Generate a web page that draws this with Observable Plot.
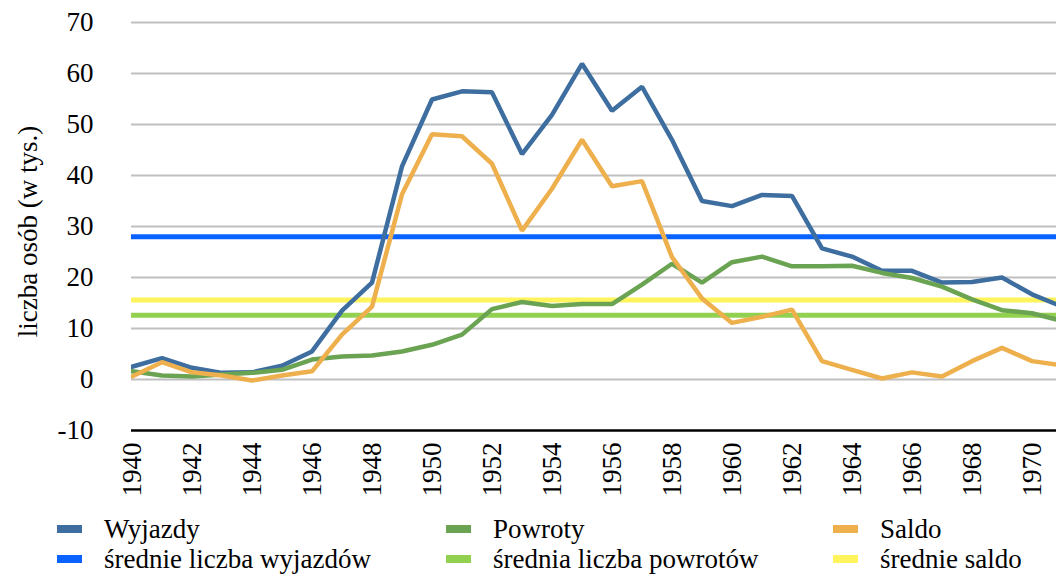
<!DOCTYPE html>
<html><head><meta charset="utf-8">
<script src="https://cdn.jsdelivr.net/npm/d3@7"></script>
<script src="https://cdn.jsdelivr.net/npm/@observablehq/plot@0.6"></script>
<style>
body{margin:0;background:#fff;font-family:"Times New Roman",serif;}
</style></head><body>
<div id="wrap" style="position:relative;width:1056px;height:576px;overflow:hidden;background:#fff;font-family:'Times New Roman',serif;"></div>
<script>
const years = [1940,1941,1942,1943,1944,1945,1946,1947,1948,1949,1950,1951,1952,1953,1954,1955,1956,1957,1958,1959,1960,1961,1962,1963,1964,1965,1966,1967,1968,1969,1970,1971];
const wyjazdy = [2.5,4.2,2.3,1.3,1.4,2.7,5.5,13.5,19.0,41.8,54.9,56.5,56.3,44.2,51.9,61.9,52.7,57.4,47.0,35.0,34.0,36.2,36.0,25.7,24.1,21.3,21.3,19.0,19.1,20.0,16.7,14.3];
const powroty = [1.6,0.8,0.6,1.0,1.3,1.9,3.9,4.5,4.7,5.5,6.8,8.8,13.8,15.2,14.4,14.8,14.8,18.6,22.7,19.0,23.0,24.1,22.2,22.2,22.3,20.9,19.9,18.2,15.7,13.6,13.0,11.5];
const saldo = [0.6,3.4,1.4,0.8,-0.2,0.8,1.6,8.8,14.3,36.3,48.1,47.7,42.3,29.2,37.4,47.0,37.9,38.9,24.0,15.9,11.1,12.3,13.7,3.6,1.9,0.2,1.4,0.6,3.6,6.2,3.6,2.8];
const seriesNames = ["Wyjazdy","Powroty","Saldo"];
const meanNames = ["średnie liczba wyjazdów","średnia liczba powrotów","średnie saldo"];
const meanValues = [28.0,12.6,15.6];
const yTicks = [-10,0,10,20,30,40,50,60,70];
const xTicks = [1940,1942,1944,1946,1948,1950,1952,1954,1956,1958,1960,1962,1964,1966,1968,1970];
const yLabel = "liczba osób (w tys.)";
const seriesColors = ["#3d6e9f","#6aa352","#eeaf4d"];
const meanColors = ["#0a62ff","#92d050","#fff45c"];
const FONT = "'Times New Roman', serif";

const seriesData = [wyjazdy, powroty, saldo];
const rows = seriesNames.flatMap((name, k) => years.map((yr, i) => ({year: yr, value: seriesData[k][i], name})));
const means = meanNames.map((name, k) => ({name, value: meanValues[k]}));

const chart = Plot.plot({
  width: 1056, height: 515,
  marginLeft: 131, marginRight: 0, marginTop: 22, marginBottom: 85,
  style: {fontFamily: FONT, fontSize: "27px", background: "white", color: "#000", position: "absolute", left: "0px", top: "0px"},
  x: {domain: [1940, 1971], range: [131.5, 1061.5]},
  y: {domain: [-10, 70], range: [430, 22]},
  color: {domain: [...seriesNames, ...meanNames], range: [...seriesColors, ...meanColors]},
  marks: [
    Plot.ruleY(yTicks.filter(d => d > -10), {stroke: "#bfbfbf", strokeWidth: 2}),
    Plot.ruleY(means, {y: "value", stroke: "name", strokeWidth: 5}),
    Plot.line(rows, {x: "year", y: "value", z: "name", stroke: "name", strokeWidth: 4.5, strokeLinejoin: "miter", clip: true}),
    Plot.ruleY([-10], {stroke: "#000", strokeWidth: 2.5}),
    Plot.axisY({ticks: yTicks, tickSize: 0, tickPadding: 38, tickFormat: d => String(d), label: null, fontSize: 27, fontFamily: FONT}),
    Plot.axisX({ticks: xTicks, tickSize: 0, tickRotate: -90, tickPadding: 12, tickFormat: d => String(d), label: null, fontSize: 27, fontFamily: FONT}),
    Plot.text([yLabel], {frameAnchor: "left", textAnchor: "middle", dx: -103, dy: 5, rotate: -90, fontSize: 27, fontFamily: FONT, fill: "#000"})
  ]
});
const wrap = document.getElementById("wrap");
wrap.appendChild(chart);

const legCols = [57, 446, 833];
const legRows = [515, 545];
const legItems = [...seriesNames, ...meanNames];
const legColors = [...seriesColors, ...meanColors];
legItems.forEach((name, i) => {
  const d = document.createElement("div");
  d.setAttribute("style", "position:absolute;display:flex;align-items:center;height:28px;line-height:28px;white-space:nowrap;color:#000;font-family:'Times New Roman',serif;font-size:27px;left:" + legCols[i % 3] + "px;top:" + legRows[Math.floor(i / 3)] + "px");
  const s = document.createElement("span");
  s.setAttribute("style", "display:inline-block;width:25px;height:8px;margin-right:22px;background:" + legColors[i]);
  d.appendChild(s);
  d.appendChild(document.createTextNode(name));
  wrap.appendChild(d);
});
</script></body></html>
